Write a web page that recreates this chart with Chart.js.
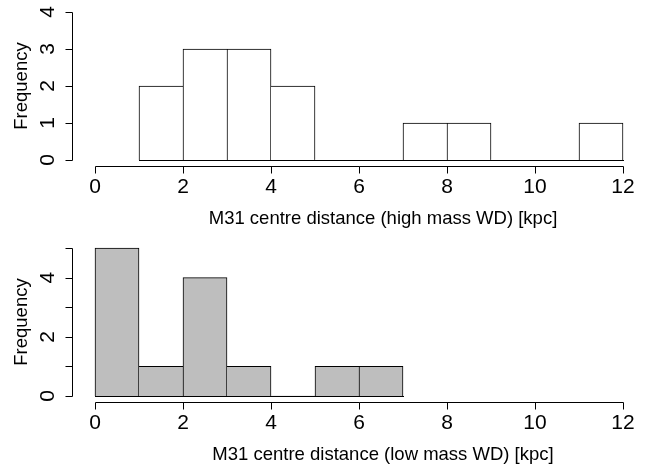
<!DOCTYPE html>
<html><head><meta charset="utf-8">
<script src="https://cdn.jsdelivr.net/npm/chart.js@4.4.1/dist/chart.umd.min.js"></script>
<style>
html,body{margin:0;padding:0;background:#fff;width:652px;height:464px;overflow:hidden}
.wrap{position:absolute;left:0;width:652px;height:232px}
</style></head><body>
<div class="wrap" style="top:0"><canvas id="c1" width="652" height="232"></canvas></div>
<div class="wrap" style="top:232px"><canvas id="c2" width="652" height="232"></canvas></div>
<script>
// ---- data ----
const highBreaks = [1,2,3,4,5,6,7,8,9,10,11,12];
const highCounts = [2,3,3,2,0,0,1,1,0,0,1];
const lowBreaks = [0,1,2,3,4,5,6,7];
const lowCounts = [5,1,4,1,0,1,1];
const xTicks = [0,2,4,6,8,10,12];
const xTickLabels = ['0','2','4','6','8','10','12'];
const highYTicks = [0,1,2,3,4];
const highYTickLabels = ['0','1','2','3','4'];
const lowYTicks = [0,1,2,3,4,5];
const lowYTickLabels = ['0','','2','','4',''];
const yTitle = 'Frequency';
const highXTitle = 'M31 centre distance (high mass WD) [kpc]';
const lowXTitle = 'M31 centre distance (low mass WD) [kpc]';

const FONT = '"Liberation Sans", Arial, Helvetica, sans-serif';

function centers(breaks){ const c=[]; for(let i=0;i<breaks.length-1;i++) c.push((breaks[i]+breaks[i+1])/2); return c; }

const rAxes = {
  id: 'rAxes',
  afterDatasetsDraw(chart, args, o) {
    const ctx = chart.ctx, xs = chart.scales.x, ys = chart.scales.y, a = chart.chartArea;
    ctx.save();
    ctx.strokeStyle = '#000'; ctx.fillStyle = '#000'; ctx.lineWidth = 1;
    const px = v => Math.round(xs.getPixelForValue(v)) + 0.5;
    const py = v => Math.round(ys.getPixelForValue(v)) + 0.5;
    // histogram baseline (covers empty bins)
    ctx.beginPath();
    ctx.moveTo(Math.round(xs.getPixelForValue(o.breaks[0])), py(0));
    ctx.lineTo(Math.round(xs.getPixelForValue(o.breaks[o.breaks.length-1]))+1, py(0));
    ctx.stroke();
    // x axis
    const xb = Math.round(a.bottom) + 0.5;
    ctx.beginPath();
    ctx.moveTo(px(o.xTicks[0]), xb); ctx.lineTo(px(o.xTicks[o.xTicks.length-1]), xb);
    o.xTicks.forEach(t => { ctx.moveTo(px(t), xb); ctx.lineTo(px(t), xb + 7); });
    ctx.stroke();
    ctx.font = o.tickSize + 'px ' + FONT;
    ctx.textAlign = 'center'; ctx.textBaseline = 'alphabetic';
    o.xTicks.forEach((t,i) => ctx.fillText(o.xLabels[i], xs.getPixelForValue(t), a.bottom + 27));
    // y axis
    const yl = Math.round(a.left) + 0.5;
    ctx.beginPath();
    ctx.moveTo(yl, py(o.yTicks[0])); ctx.lineTo(yl, py(o.yTicks[o.yTicks.length-1]));
    o.yTicks.forEach(t => { ctx.moveTo(yl, py(t)); ctx.lineTo(yl - 7, py(t)); });
    ctx.stroke();
    o.yTicks.forEach((t,i) => {
      if (!o.yLabels[i]) return;
      ctx.save(); ctx.translate(a.left - 18.5, ys.getPixelForValue(t)); ctx.rotate(-Math.PI/2);
      ctx.fillText(o.yLabels[i], 0, 0); ctx.restore();
    });
    // titles
    ctx.font = o.titleSize + 'px ' + FONT;
    ctx.fillText(o.xTitle, 383, a.bottom + 58);
    ctx.save(); ctx.translate(27, (a.top + a.bottom)/2); ctx.rotate(-Math.PI/2);
    ctx.fillText(o.yTitle, 0, 0); ctx.restore();
    ctx.restore();
  }
};

function makeChart(id, breaks, counts, fill, yMin, yMax, yTicks, yLabels, xTitle, padTop, xH) {
  const cs = centers(breaks);
  const data = cs.map((c,i) => ({x: c, y: counts[i]}));
  const bw = c => {
    const i = c.dataIndex, n = counts.length, v = counts[i];
    if (!v) return 0;
    const prev = i > 0 ? counts[i-1] : 0, next = i < n-1 ? counts[i+1] : 0;
    return {top: 1, bottom: 0, left: v >= prev ? 1 : 0, right: v > next ? 1 : 0};
  };
  return new Chart(document.getElementById(id), {
    type: 'bar',
    data: { datasets: [{
      data, backgroundColor: fill, borderColor: '#000', borderWidth: bw,
      borderSkipped: false, barPercentage: 1, categoryPercentage: 1
    }]},
    options: {
      responsive: false, animation: false, devicePixelRatio: 1,
      layout: { padding: { top: padTop, right: 8, left: 0, bottom: 0 } },
      plugins: { legend: {display: false}, tooltip: {enabled: false},
        rAxes: { breaks, xTicks, xLabels: xTickLabels, yTicks, yLabels, xTitle, yTitle, tickSize: 21, titleSize: 18.5 } },
      scales: {
        x: { type: 'linear', offset: false, min: -23/44, max: 12 + 21/44,
             ticks: {display: false}, grid: {display: false}, border: {display: false},
             afterFit: s => { s.height = xH; } },
        y: { type: 'linear', min: yMin, max: yMax,
             ticks: {display: false}, grid: {display: false}, border: {display: false},
             afterFit: s => { s.width = 72; } }
      }
    },
    plugins: [rAxes]
  });
}

makeChart('c1', highBreaks, highCounts, '#ffffff', -6/37, 4 + 6/37, highYTicks, highYTickLabels, highXTitle, 6, 66);
makeChart('c2', lowBreaks, lowCounts, '#bebebe', -6/29.6, 5 + 6/29.6, lowYTicks, lowYTickLabels, lowXTitle, 10, 62);
</script>
</body></html>
